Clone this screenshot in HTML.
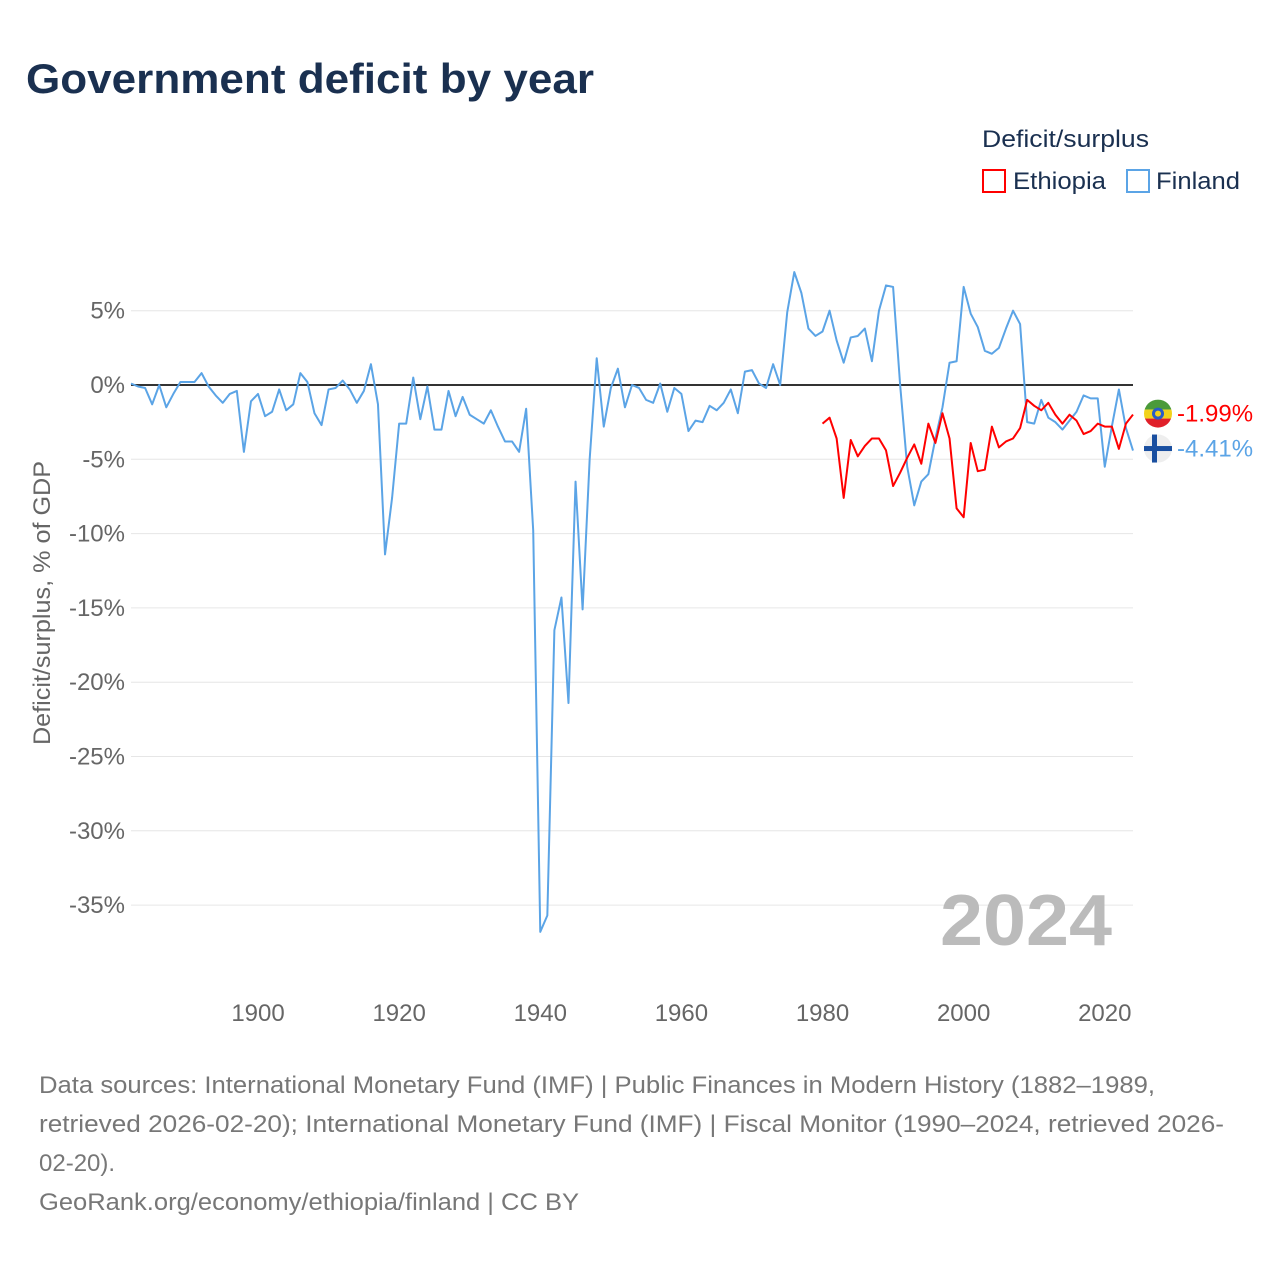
<!DOCTYPE html>
<html><head><meta charset="utf-8"><style>
body{margin:0;background:#fff;font-family:"Liberation Sans",sans-serif;}
svg text{font-family:"Liberation Sans",sans-serif;}
</style></head><body>
<svg id="chart" width="1280" height="1280" xmlns="http://www.w3.org/2000/svg">
<rect width="1280" height="1280" fill="#fff"/>
<text x="26" y="93" font-size="42" font-weight="bold" fill="#1a3050" textLength="568" lengthAdjust="spacingAndGlyphs">Government deficit by year</text>
<text x="982" y="147" font-size="24" fill="#1a3050" textLength="167" lengthAdjust="spacingAndGlyphs">Deficit/surplus</text>
<g><rect x="983" y="170" width="22" height="22" fill="none" stroke="#f00" stroke-width="2"/><text x="1013" y="189" font-size="24" fill="#1a3050" textLength="93" lengthAdjust="spacingAndGlyphs">Ethiopia</text></g>
<g><rect x="1127" y="170" width="22" height="22" fill="none" stroke="#5ba4e6" stroke-width="2"/><text x="1156" y="189" font-size="24" fill="#1a3050" textLength="84" lengthAdjust="spacingAndGlyphs">Finland</text></g>
<g id="grid"></g>
<g id="yticks"></g>
<g id="xticks"></g>
<text transform="translate(50,603) rotate(-90)" text-anchor="middle" font-size="24" fill="#666" textLength="284" lengthAdjust="spacingAndGlyphs">Deficit/surplus, % of GDP</text>
<text x="1112" y="945" text-anchor="end" font-size="72" font-weight="bold" fill="#bbb" textLength="172" lengthAdjust="spacingAndGlyphs">2024</text>
<g id="series"></g>
<g font-size="24" fill="#777">
<text x="39" y="1093" textLength="1116" lengthAdjust="spacingAndGlyphs">Data sources: International Monetary Fund (IMF) | Public Finances in Modern History (1882–1989,</text>
<text x="39" y="1132" textLength="1185" lengthAdjust="spacingAndGlyphs">retrieved 2026-02-20); International Monetary Fund (IMF) | Fiscal Monitor (1990–2024, retrieved 2026-</text>
<text x="39" y="1171">02-20).</text>
<text x="39" y="1210" textLength="540" lengthAdjust="spacingAndGlyphs">GeoRank.org/economy/ethiopia/finland | CC BY</text>
</g>
</svg>
<script>
const yTicks=[5,0,-5,-10,-15,-20,-25,-30,-35];
const xTicks=[1900,1920,1940,1960,1980,2000,2020];
const finStart=1882;
const finland=[0.1,-0.1,-0.2,-1.3,0,-1.5,-0.6,0.2,0.2,0.2,0.8,-0.1,-0.7,-1.2,-0.6,-0.4,-4.5,-1.1,-0.6,-2.1,-1.8,-0.3,-1.7,-1.3,0.8,0.2,-1.9,-2.7,-0.3,-0.2,0.3,-0.3,-1.2,-0.4,1.4,-1.3,-11.4,-7.6,-2.6,-2.6,0.5,-2.3,-0.1,-3.0,-3.0,-0.4,-2.1,-0.8,-2.0,-2.3,-2.6,-1.7,-2.8,-3.8,-3.8,-4.5,-1.6,-9.8,-36.8,-35.7,-16.5,-14.3,-21.4,-6.5,-15.1,-5.0,1.8,-2.8,-0.2,1.1,-1.5,0,-0.2,-1.0,-1.2,0.1,-1.8,-0.2,-0.6,-3.1,-2.4,-2.5,-1.4,-1.7,-1.2,-0.3,-1.9,0.9,1.0,0.1,-0.2,1.4,0,4.9,7.6,6.2,3.8,3.3,3.6,5.0,3.0,1.5,3.2,3.3,3.8,1.6,5.0,6.7,6.6,0,-5.5,-8.1,-6.5,-6.0,-3.6,-1.5,1.5,1.6,6.6,4.8,3.9,2.3,2.1,2.5,3.8,5.0,4.1,-2.5,-2.6,-1.0,-2.2,-2.5,-3.0,-2.4,-1.8,-0.7,-0.9,-0.9,-5.5,-2.8,-0.3,-2.9,-4.41];
const ethStart=1980;
const ethiopia=[-2.6,-2.2,-3.6,-7.6,-3.7,-4.8,-4.1,-3.6,-3.6,-4.4,-6.8,-5.9,-4.9,-4.0,-5.3,-2.6,-3.9,-1.9,-3.6,-8.3,-8.9,-3.9,-5.8,-5.7,-2.8,-4.2,-3.8,-3.6,-2.9,-1.0,-1.4,-1.7,-1.2,-2.0,-2.6,-2.0,-2.4,-3.3,-3.1,-2.6,-2.8,-2.8,-4.3,-2.6,-1.99];
const X=yr=>131+(yr-1882)*(1133-131)/(2024-1882);
const Y=v=>385-v*14.86;
const NS="http://www.w3.org/2000/svg";
function mk(tag,attrs,parent){const e=document.createElementNS(NS,tag);for(const k in attrs)e.setAttribute(k,attrs[k]);parent.appendChild(e);return e;}
const grid=document.getElementById('grid'),yt=document.getElementById('yticks'),xt=document.getElementById('xticks'),ser=document.getElementById('series');
yTicks.forEach(v=>{
 if(v!==0){const l=mk('line',{x1:131,x2:1133,y1:Y(v),y2:Y(v),stroke:'#e6e6e6','stroke-width':1},grid);
 
 }
 const t=mk('text',{x:125,y:Y(v)+8,'text-anchor':'end','font-size':24,fill:'#666'},yt);
 t.textContent=v+'%';
 
 
});
xTicks.forEach(v=>{
 const t=mk('text',{x:X(v),y:1021,'text-anchor':'middle','font-size':24,fill:'#666'},xt);
 t.textContent=v;
 
 
});
const zl=mk('line',{x1:131,x2:1133,y1:Y(0),y2:Y(0),stroke:'#333','stroke-width':2},ser);


function line(arr,start,color,name){
 const p=mk('polyline',{points:arr.map((v,i)=>X(start+i)+','+Y(v)).join(' '),fill:'none',stroke:color,'stroke-width':2,'stroke-linejoin':'round'},ser);
 
 
}
line(finland,finStart,'#5ba4e6','finland-line');
line(ethiopia,ethStart,'#f00','ethiopia-line');
function endLabel(arr,start,color,name,flag){
 const v=arr[arr.length-1];
 const g=mk('g',{},ser);
 
 
 const cx=1158, cy=Y(v)+(name.includes('ethiopia')?-1:-2);
 flag(g,cx,cy);
 const t=mk('text',{x:1177,y:cy+8,'font-size':24,fill:color},g);
 t.textContent=v.toFixed(2)+'%';
}
endLabel(ethiopia,ethStart,'#f00','ethiopia-end-label',(g,cx,cy)=>{
 const cp=mk('clipPath',{id:'ce'},g);
 mk('circle',{cx:cx,cy:cy,r:14},cp);
 mk('rect',{x:cx-14,y:cy-14,width:28,height:10,fill:'#4a9a3a','clip-path':'url(#ce)'},g);
 mk('rect',{x:cx-14,y:cy-4,width:28,height:9,fill:'#f2d21b','clip-path':'url(#ce)'},g);
 mk('rect',{x:cx-14,y:cy+5,width:28,height:10,fill:'#e0202a','clip-path':'url(#ce)'},g);
 mk('circle',{cx:cx,cy:cy,r:6,fill:'#2a5cc8'},g);
 mk('circle',{cx:cx,cy:cy,r:3,fill:'#f2d21b'},g);
});
endLabel(finland,finStart,'#5ba4e6','finland-end-label',(g,cx,cy)=>{
 mk('circle',{cx:cx,cy:cy,r:14,fill:'#eee'},g);
 mk('rect',{x:cx-14,y:cy-2.5,width:28,height:5,fill:'#1a4fa0'},g);
 mk('rect',{x:cx-6,y:cy-14,width:5,height:28,fill:'#1a4fa0'},g);
});
</script>
</body></html>
